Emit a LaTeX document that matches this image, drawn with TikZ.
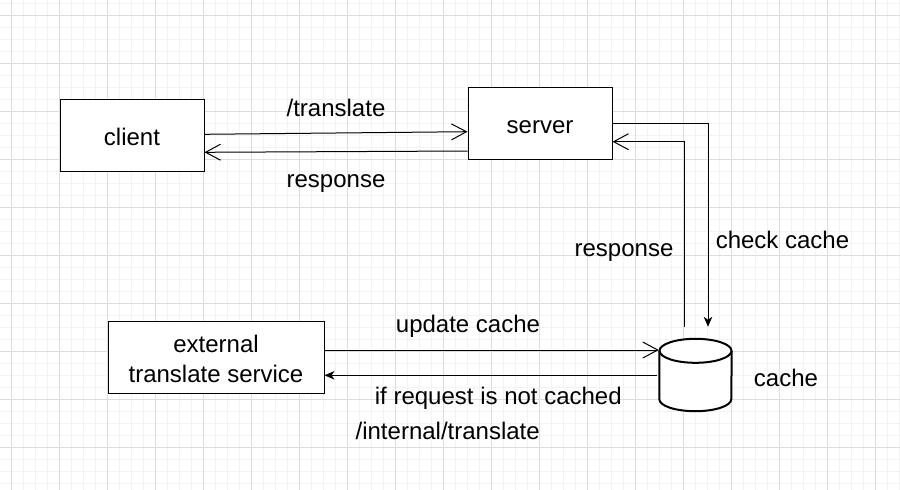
\documentclass[tikz,border=0pt]{standalone}
\usepackage{fontspec}
\setmainfont{Liberation Sans}
\usetikzlibrary{arrows.meta,calc}
\definecolor{gridminor}{HTML}{F3F3F3}
\definecolor{gridmajor}{HTML}{DDDDDD}
\tikzset{
  box/.style={draw=black, line width=1pt, fill=white, minimum height=72pt, inner sep=0pt, font=\fontsize{24}{30}\selectfont},
  lbl/.style={anchor=base, inner sep=0pt, font=\fontsize{24}{30}\selectfont},
  conn/.style={draw=black, line width=1pt},
  openhead/.style={-{Straight Barb[length=15pt,width=16pt,line width=1pt]}},
  fillhead/.style={-{Stealth[length=10pt,width=8.5pt,inset=3pt]}},
}
\begin{document}
\begin{tikzpicture}[x=1pt,y=-1pt]
\useasboundingbox (0,0) rectangle (900,490);
\fill[white] (0,0) rectangle (900,490);
% grid
\foreach \gx in {-0.5,11.5,...,900} \draw[gridminor,line width=1pt] (\gx,0) -- (\gx,490);
\foreach \gy in {3,15,...,490} \draw[gridminor,line width=1pt] (0,\gy) -- (900,\gy);
\foreach \gx in {11.5,59.5,...,900} \draw[gridmajor,line width=1pt] (\gx,0) -- (\gx,490);
\foreach \gy in {15,63,...,490} \draw[gridmajor,line width=1pt] (0,\gy) -- (900,\gy);

% nodes
\node[box, minimum width=144pt, text height=20pt, text depth=0pt] (client) at (132,135) {client};
\node[box, minimum width=144pt, text height=20pt, text depth=0pt] (server) at (540,123) {server};
\node[box, minimum width=216pt, align=center, text height=51pt, text depth=0pt] (ext) at (216,357) {external\\translate service};
\node[minimum width=72pt, minimum height=72pt, inner sep=0pt] (cache) at (695.5,375) {};
% cylinder
\filldraw[fill=white, draw=black, line width=2pt]
  ($(cache.north west)+(0,12)$) -- ($(cache.south west)+(0,-12)$)
  arc[start angle=180, end angle=0, x radius=36, y radius=12]
  -- ($(cache.north east)+(0,12)$);
\draw[line width=2pt, fill=white] ($(cache.north)+(0,12)$) ellipse[x radius=36, y radius=12];

% connectors
\draw[conn, openhead] ($(client.east)+(0,-0.7)$) -- ($(server.west)+(0,8.7)$);
\draw[conn, openhead] ($(server.west)+(0,28)$) -- ($(client.east)+(0,17.3)$);
\draw[conn, fillhead] ($(server.east)+(0,0.3)$) -| ($(cache.north)+(12.5,-12)$);
\draw[conn, openhead] ($(cache.north)+(-11.5,-12)$) |- ($(server.east)+(0,18.7)$);
\draw[conn, openhead] ($(ext.east)+(0,-7)$) -- ($(cache.west)+(-0.5,-25)$);
\draw[conn, fillhead] ($(cache.west)+(-2.5,0.3)$) -- ($(ext.east)+(0,18.3)$);

% labels
\node[lbl] (l1) at (336,116.5) {/translate};
\node[lbl] (l2) at (336,187.5) {response};
\node[lbl] (l3) at (624,256.5) {response};
\node[lbl] (l4) at (782.5,248) {check cache};
\node[lbl] (l5) at (786,386) {cache};
\node[lbl] (l6) at (468,332) {update cache};
\node[lbl] (l7) at (498.3,404) {if request is not cached};
\node[lbl] (l8) at (447.7,439.5) {/internal/translate};
\end{tikzpicture}
\end{document}
